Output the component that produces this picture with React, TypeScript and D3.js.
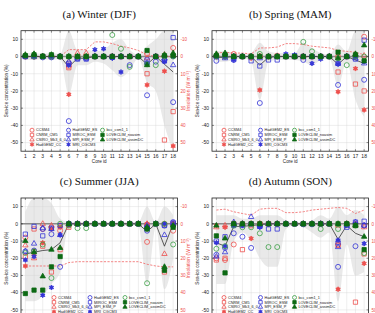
import React from "react";
import * as d3 from "d3";

// core sites along the transect
const cores = d3.range(1, 19);

const models = [
  "CCSM4", "CNRM_CM5", "CSIRO_Mk3_6_0", "HadGEM2_CC",
  "HadGEM2_ES", "MIROC_ESM", "MPI_ESM_P", "MRI_CGCM3",
  "bcc_csm1_1", "LOVECLIM_noasim", "LOVECLIM_assimDC",
];

// sea-ice concentration anomaly (%) per model, one row per model, cores 1..18
const djfValues = [
  [0, 0, 0, 0, 0, -5.5, 0, 0, 0, 0, 0, 0, 0, 0, 1.5, 0, 0, 5],
  [0, 0, 0, 0, 0, -6.5, 0, 0, 0, 0, 0, 0, 0, 0, -10, 0, -48.5, -32],
  [0.5, 0, 0, 0, 0, -3, 2, 2, 0, 0, 0, 0, 0, 0, -1, 0, 1, 1],
  [0, 0, 0, 0, 0, -22, 0, 0, 0, 0, 0, 0, 0, 0, -16.5, 0, -8.5, -52],
  [0, 0, -0.5, -0.5, 0, -37.5, -1, -1, 0, 0, -0.5, 0, -5, 0, -22.5, -3, -2, -26.5],
  [0, 0, 0, 0, 0, -4, -1.5, -1.5, 0, 0, 0, 0, 0, 0, -2, 0, -2.5, 11],
  [0, 0, 0, 0, 0, -3, -1, -1, 0, 0, 0, 0, 0, 0, -3.5, 0, -1, -5],
  [0, 0, 0, 0, 0, -5, 0, 0, 4, 4.5, -1, -9, 0, 0, -4, 0, -3, 0],
  [0.5, 0, 0, 0, 0, 0, 0, 0, 0, 0, 12.5, 4.5, -6, 0, -4.5, -5, 0, 0],
  [0.5, 1, 0.2, 1, 0, 0, 0, 0, 0, 0, 0, 0, 0, 0, 3.5, 0, 0.5, 0.5],
  [1, 1.5, 0, 1, 0, 0, 0, 0, 0, 0, 0, 0, 0, 0, -5, 0, 1, 2],
];
const djfMean = [0, 0, 0, 0, 0, -6, -1, -1, 0, 0, 0, 0, 0, 0, -4.5, 0, -4.5, -9];
const djfLow = [-2, -2, -1.5, -2, -1.5, -22, -5, -5, -3, -4, -8, -12, -8, -1, -15, -20, -40, -55];
const djfHigh = [2, 2, 1.5, 2, 1.5, 15, 4, 4, 3, 4, 8, 10, 4, 1, 6, 10, 15, 15];
const djfInsolation = [0, 0, 0, 0, 0, -4, -4, -4, -8.5, -8.5, -7.5, -6, -5, -3.5, -1, 0, 0, 0];

const mamValues = [
  [0, 0, 1.5, 0, 0, 0, 0, 0.5, 0, 0, 0, 0, 0, 0, 0, 0, 0, 11.5],
  [0, 0, 0, 0, 0, 0, 0, 0, 0, 0, 0, 0, 0, 0, -9, 0, -16, -20],
  [0.5, 0, 0, 0, 0, 0, 0, 0, 0, 0, 0, 0, 0, 0, 0, 0, 1, 0.5],
  [0, 0, 0, 0, -1, -19.5, 0, 0, 0, 0, 0, 0, 0, 0, -20.5, 0, -7, -31],
  [-2.5, 0, -2, 0, 0, -27, 0, 0, 0, 0, -2, 0, 0, 0, -16.5, 0, 0, -13.5],
  [0, 0, 0, 0, -2.5, -5.5, -2, -2, 0, 0, 0, 0, 0, 0, -4, 0, -1.5, 9.5],
  [0, -1, 0, 0, 0, -1, 0, 0, 0, 0, 0, 0, 0, 0, -4, 0, -1, -4],
  [0, 0, -2, 0, 0, 0, 0, 0, 1.5, 1, 0, -4, -1.5, 0, -4.5, 0, 0, -3],
  [0, 0, 0, 0, 0, 1.5, 0, 0, 0, 0, 8.5, 3, 0, 0, -1, -5, 0, 0],
  [0.5, 1, 0, 0, 0, 0, 0, 0, 0, 0, 0, 0, 0, 0, 2.5, 0, 1, -2.5],
  [1.5, 2, 0, 0, 0, 0, 0, 0, 0, 0, 0, 0, 0, 0, -1, 0, 1.5, 6.5],
];
const mamMean = [-0.5, -0.5, 0, 0, 0, -5, -0.5, 0, 0, 0, 0, 0, 0, 0, -4.5, 0, -2, -4];
const mamLow = [-3, -3, -2, -1, -3, -25, -3, -2, -2, -2, -3, -5, -2, -1, -17, -3, -25, -35];
const mamHigh = [3, 3, 2, 1, 2, 8, 3, 2, 2, 2, 8, 5, 2, 1, 7, 3, 15, 15];
const mamInsolation = [-2, -2.5, -2, -2, -1.5, -5, -5, -5.5, -7.5, -7.5, -7, -6, -5.5, -5, -3.5, -3, -2.5, -1];

const jjaValues = [
  [-8, -16, -3, -2, -4, 0, 0, 0, 0, 0, 0, 0, 0, 0, -10.5, 0, 0, -4],
  [-19, -3, -13, -28, -15, -2, 0, 0, 0, 0, 0, 0, 0, 0, -1, 0, -28, 0],
  [-12.5, -20, 0, -1, -1, 0, 0, 0, 0, 0, 0, 0, 0, 0, 0, 0, -17.5, 0],
  [-24.5, -18, -11, -3, -2, -1, 0, 0, 0, 0, 0, 0, 0, 0, 0, 0, 0, 0],
  [-16, -15.5, -3, -6, -25, 0, 0, 0, 0, 0, 0, 0, 0, 0, -4, 0, -1, 1],
  [-6, -1.5, -7, -2.5, -1, 0, 0, 0, 0, 0, 0, 0, 0, 0, -2, 0, -1, 0.5],
  [-16, -11.5, -2.5, -3, -6.5, 0, 0, 0, 0, 0, 0, 0, 0, 0, -1, 0, -6.5, 0],
  [-21, -19, -41.5, -37, -6.5, 0, 0, 0, 0, 0, 0, 0, 0, 0, -2, 0, 0, -1],
  [-17, -16, -12, -31.5, 0, -1, -2.5, -2.5, 0, 0, 0, 0, 0, 0, -34.5, 0, 0, -12],
  [-40.5, -38.5, -38.5, -25, -19, 0, 0, 0, 0, 0, 0, 0, 0, 0, -3, 0, -27, -2],
  [-10, -16.5, -30.5, -15, -14, 0, 0, 0, 0, 0, 0, 0, 0, 0, -2, 0, -25, -1],
];
const jjaMean = [-17.5, -16.5, -15.5, -15, -11, 0, 0, 0, 0, 0, 0, 0, 0, 0, -4.5, 0, -13, 0];
const jjaLow = [-45, -45, -42, -35, -28, -1, -1, -1, -1, -1, -1, -1, -1, -1, -35, -2, -38, -20];
const jjaHigh = [7, 15, 15, 12, 3, 1, 1, 1, 1, 1, 1, 1, 1, 1, 10, 1, 10, 5];
const jjaInsolation = [24.5, 24.5, 24.5, 24.5, 24.5, 22.5, 22, 22, 22, 22, 22, 22, 22, 22, 23.5, 24.5, 25, 25];

const sonValues = [
  [-20, -21, -12, 0, -1, 0, 0, 0, 0, 0, 0, 0, 0, 0, -12, 0, 0, -1],
  [-21, -20, 0, -15, 0, 0, 0, 0, 0, 0, 0, 0, 0, 0, -12.5, 0, -45.5, -17.5],
  [-2, -1, 0, 0, 0, 0, 0, 0, 0, 0, 0, 0, 0, 0, -1, 0, -1, -2],
  [-1, -2, 0, 0, -8.5, 0, 0, 0, 0, 0, 0, 0, 0, 0, -38, 0, 0, -23],
  [-18, -14, -5.5, -7.5, -14, -1.5, 0, 0, 0, 0, 0, 0, 0, 0, -25, 0, -13, -1],
  [-10, -7.5, -1, -1, 0, -1.5, -3, -3, 0, 0, 0, 0, 0, 0, -11, -2, 1, 1.5],
  [-19, -16.5, 1, 0, 4, -1, 0, 0, 0, 0, 0, 0, 0, 0, -13.5, -1, 1, -1],
  [-11, -13, -1, -1, 0, -2, 0, 0, 0, 0, -0.5, -0.5, 0, 0, -9.5, -1, 0, -11.5],
  [-14.5, -13, -1, -2, -2, -5.5, -13.5, -13.5, 0, 0, 0, 0, -3, 0, -3, 0, -1, -17],
  [-7, -28.5, 0, 0, 0, 0, 0, 0, 0, 0, 0, 0, 0, 0, 0, 0, -1, -15],
  [-1, -8.5, 0, 0, 0, 0, 0, 0, 0, 0, 0, 0, 0, 0, 0, 0, -1, -7.5],
];
const sonMean = [-11, -13, -1.5, -1.5, -1, -0.5, 0, 0, 0, 0, 0, 0, 0, 0, -9, -1, -5.5, -7.5];
const sonLow = [-35, -35, -10, -5, -10, -20, -25, -25, -3, -1, -2, -5, -8, -5, -45, -12, -30, -28];
const sonHigh = [5, 5, 5, 3, 3, 5, 5, 5, 2, 1, 1, 2, 5, 3, 10, 5, 8, 5];
const sonInsolation = [-8, -8.5, -7, -6, -5, -8.5, -9, -9, -6.5, -6.5, -7, -8, -8.5, -9, -9.5, -9, -6, -8];

const yTicks = [10, 0, -10, -20, -30, -40, -50];

// marker look per model
const RED = "#ee4f4c";
const BLUE = "#3434d6";
const GREEN = "#3c9e46";
const DKGREEN = "#0d6a14";
const markerStyle = [
  { shape: "circle", color: RED, filled: false },
  { shape: "square", color: RED, filled: false },
  { shape: "triangle", color: RED, filled: false },
  { shape: "hexagram", color: RED, filled: true },
  { shape: "circle", color: BLUE, filled: false },
  { shape: "square", color: BLUE, filled: false },
  { shape: "triangle", color: BLUE, filled: false },
  { shape: "hexagram", color: BLUE, filled: true },
  { shape: "circle", color: GREEN, filled: false },
  { shape: "square", color: DKGREEN, filled: true },
  { shape: "triangle", color: DKGREEN, filled: true },
];

function hexagram(r: number) {
  const pts: string[] = [];
  for (let k = 0; k < 12; k++) {
    const a = -Math.PI / 2 + (k * Math.PI) / 6;
    const rr = k % 2 === 0 ? r : r / Math.sqrt(3);
    pts.push(`${(rr * Math.cos(a)).toFixed(2)},${(rr * Math.sin(a)).toFixed(2)}`);
  }
  return "M" + pts.join("L") + "Z";
}

function markerPath(shape: string, s: number) {
  if (shape === "circle") return d3.symbol(d3.symbolCircle, Math.PI * (s / 2) ** 2)()!;
  if (shape === "square") return d3.symbol(d3.symbolSquare, (s * 0.85) ** 2)()!;
  if (shape === "triangle") return d3.symbol(d3.symbolTriangle, s * s * 0.5)()!;
  return hexagram(s * 0.5);
}

function Marker({ idx, x, y, s = 5 }: { idx: number; x: number; y: number; s?: number }) {
  const st = markerStyle[idx];
  return (
    <path
      d={markerPath(st.shape, s)}
      transform={`translate(${x},${y})`}
      fill={st.filled ? st.color : "none"}
      stroke={st.color}
      strokeWidth={0.8}
      strokeLinejoin="round"
    />
  );
}

const PW = 156.5;
const PH = 120.5;

type PanelProps = {
  id: string;
  title: string;
  left: number;
  top: number;
  values: number[][];
  mean: number[];
  low: number[];
  high: number[];
  insolation: number[];
  legendCols: number[];
  rightTitle: boolean;
};

function Panel(p: PanelProps) {
  const x = d3.scaleLinear().domain([0.5, 18.5]).range([0, PW]);
  const y = d3.scaleLinear().domain([-55, 15]).range([PH, 0]);
  const band = d3
    .area<number>()
    .x((c) => x(c))
    .y0((_, i) => y(p.low[i]))
    .y1((_, i) => y(p.high[i]))
    .curve(d3.curveMonotoneX);
  const line = d3
    .line<number>()
    .x((c) => x(c))
    .y((_, i) => y(p.mean[i]));
  const insLine = d3
    .line<number>()
    .x((c) => x(c))
    .y((_, i) => y(-p.insolation[i]));
  const clipId = `clip-${p.id}`;
  const sans = "Liberation Sans, Arial, sans-serif";

  return (
    <g transform={`translate(${p.left},${p.top})`}>
      <text
        x={PW / 2}
        y={-13}
        textAnchor="middle"
        fontFamily="Liberation Serif, Times New Roman, serif"
        fontSize={11}
        fill="#111"
      >
        {p.title}
      </text>
      <defs>
        <clipPath id={clipId}>
          <rect width={PW} height={PH} />
        </clipPath>
      </defs>
      <rect width={PW} height={PH} fill="#fff" />
      <g clipPath={`url(#${clipId})`}>
        <path d={band(cores)!} fill="#e9e9e9" />
        {cores.map((c) => (
          <line key={c} x1={x(c)} x2={x(c)} y1={0} y2={PH} stroke="#d4d4d4" strokeWidth={0.4} />
        ))}
        {yTicks.map((t) => (
          <line key={t} x1={0} x2={PW} y1={y(t)} y2={y(t)} stroke="#d4d4d4" strokeWidth={0.4} />
        ))}
        <line x1={0} x2={PW} y1={y(0)} y2={y(0)} stroke="#8a8a8a" strokeWidth={1.4} />
        <path d={insLine(cores)!} fill="none" stroke="#f06464" strokeWidth={0.8} strokeDasharray="2.2,1.4" />
        <path d={line(cores)!} fill="none" stroke="#333" strokeWidth={0.8} />
        {p.values.map((row, m) =>
          row.map((v, i) => <Marker key={`${m}-${i}`} idx={m} x={x(cores[i])} y={y(v)} />)
        )}
      </g>
      {/* frame and ticks */}
      <rect width={PW} height={PH} fill="none" stroke="#222" strokeWidth={0.8} />
      {cores.map((c) => (
        <g key={c}>
          <line x1={x(c)} x2={x(c)} y1={PH} y2={PH - 2} stroke="#222" strokeWidth={0.5} />
          <line x1={x(c)} x2={x(c)} y1={0} y2={2} stroke="#222" strokeWidth={0.5} />
          <text x={x(c)} y={PH + 6.5} textAnchor="middle" fontFamily={sans} fontSize={5} fill="#222">
            {c}
          </text>
        </g>
      ))}
      {yTicks.map((t) => (
        <g key={t}>
          <line x1={0} x2={2} y1={y(t)} y2={y(t)} stroke="#222" strokeWidth={0.5} />
          <line x1={PW} x2={PW - 2} y1={y(t)} y2={y(t)} stroke="#222" strokeWidth={0.5} />
          <text x={-3} y={y(t) + 1.8} textAnchor="end" fontFamily={sans} fontSize={5} fill="#222">
            {t}
          </text>
          <text x={PW + 3} y={y(t) + 1.8} textAnchor="start" fontFamily={sans} fontSize={4.6} fill="#ee4f4c">
            {t === 0 ? "0" : String(-t)}
          </text>
        </g>
      ))}
      <text
        transform={`translate(${-13},${PH / 2}) rotate(-90)`}
        textAnchor="middle"
        fontFamily={sans}
        fontSize={4.6}
        fill="#222"
      >
        Sea-ice concentration (%)
      </text>
      {p.rightTitle && (
        <text
          transform={`translate(${PW + 12.5},${PH / 2}) rotate(-90)`}
          textAnchor="middle"
          fontFamily={sans}
          fontSize={5}
          fill="#ee4f4c"
        >
          Insolation (W m⁻²)
        </text>
      )}
      <text x={PW / 2} y={PH + 11.5} textAnchor="middle" fontFamily={sans} fontSize={4.6} fill="#222">
        Core id
      </text>
      {/* legend */}
      {models.map((name, m) => {
        const col = Math.floor(m / 4);
        const row = m % 4;
        const lx = p.legendCols[col];
        const ly = 99.5 + row * 4.75;
        return (
          <g key={name}>
            <Marker idx={m} x={lx} y={ly} s={4} />
            <text x={lx + 4} y={ly + 1.3} fontFamily={sans} fontSize={3.8} fill="#222">
              {name}
            </text>
          </g>
        );
      })}
    </g>
  );
}

export default function App() {
  return (
    <svg
      width={375}
      height={313}
      style={{ position: "absolute", left: 0, top: 0, background: "#fff" }}
    >
      <Panel id="a" title="(a) Winter (DJF)" left={21} top={30.7} values={djfValues} mean={djfMean}
        low={djfLow} high={djfHigh} insolation={djfInsolation} legendCols={[11, 47.5, 81.5]} rightTitle />
      <Panel id="b" title="(b) Spring (MAM)" left={212} top={30.7} values={mamValues} mean={mamMean}
        low={mamLow} high={mamHigh} insolation={mamInsolation} legendCols={[12, 48.5, 82.5]} rightTitle={false} />
      <Panel id="c" title="(c) Summer (JJA)" left={21} top={198} values={jjaValues} mean={jjaMean}
        low={jjaLow} high={jjaHigh} insolation={jjaInsolation} legendCols={[33, 69, 104]} rightTitle />
      <Panel id="d" title="(d) Autumn (SON)" left={212} top={198} values={sonValues} mean={sonMean}
        low={sonLow} high={sonHigh} insolation={sonInsolation} legendCols={[12, 48.5, 82.5]} rightTitle={false} />
    </svg>
  );
}
